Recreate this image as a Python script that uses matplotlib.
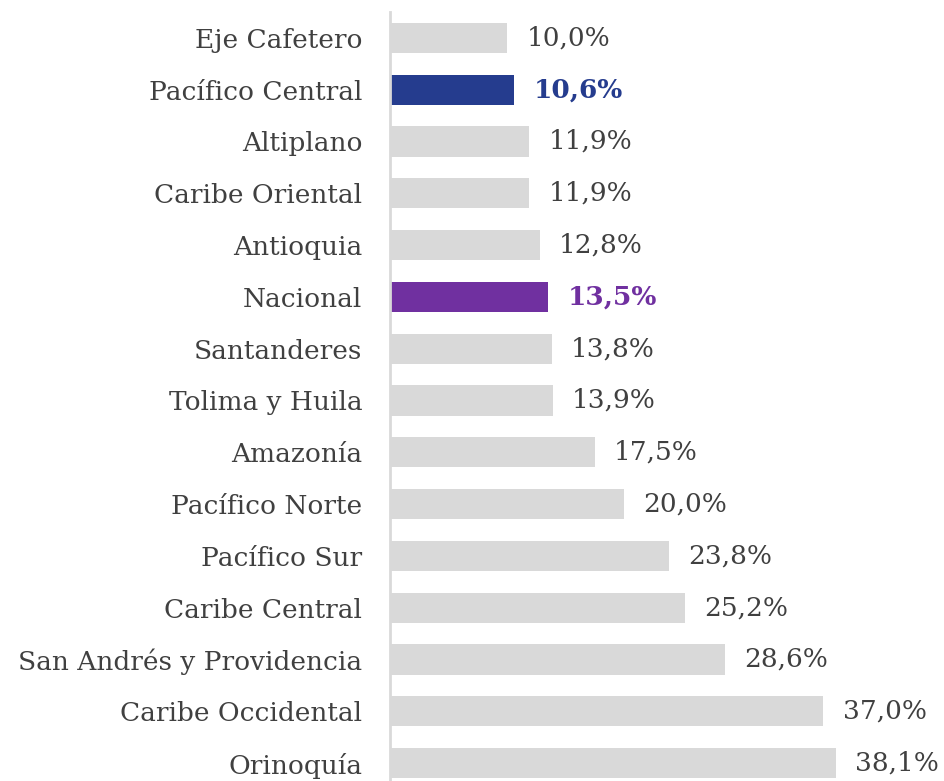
import matplotlib
matplotlib.use("Agg")
import matplotlib.pyplot as plt

regiones = ["Eje Cafetero", "Pacífico Central", "Altiplano", "Caribe Oriental",
            "Antioquia", "Nacional", "Santanderes", "Tolima y Huila", "Amazonía",
            "Pacífico Norte", "Pacífico Sur", "Caribe Central",
            "San Andrés y Providencia", "Caribe Occidental", "Orinoquía"]
valores = [10.0, 10.6, 11.9, 11.9, 12.8, 13.5, 13.8, 13.9, 17.5,
           20.0, 23.8, 25.2, 28.6, 37.0, 38.1]

gris = "#D9D9D9"
resaltados = {"Pacífico Central": "#253C8E", "Nacional": "#7030A0"}
texto = "#404040"

plt.rcParams["font.family"] = ["DejaVu Serif"]

fig = plt.figure(figsize=(9.45, 7.81), dpi=100)
ax = fig.add_axes([390 / 945, -8 / 781, 555 / 945, 777 / 781])

y = list(range(len(regiones)))
colores = [resaltados.get(r, gris) for r in regiones]
ax.barh(y, valores, height=0.58, color=colores)

for yi, r, v in zip(y, regiones, valores):
    etiqueta = f"{v:.1f}%".replace(".", ",")
    if r in resaltados:
        ax.text(v + 1.65, yi, etiqueta, va="center", ha="left", fontsize=19,
                fontweight="bold", color=resaltados[r])
    else:
        ax.text(v + 1.65, yi, etiqueta, va="center", ha="left", fontsize=19,
                color=texto)

ax.set_ylim(len(regiones) - 0.5, -0.5)
ax.set_xlim(0, 47.4)
ax.set_yticks(y)
ax.set_yticklabels(regiones, fontsize=19, color=texto)
ax.tick_params(axis="y", length=0, pad=20)
ax.set_xticks([])
for lado in ["top", "right", "bottom"]:
    ax.spines[lado].set_visible(False)
ax.spines["left"].set_color("#D9D9D9")
ax.spines["left"].set_linewidth(2)

fig.savefig("out.png", dpi=100)
